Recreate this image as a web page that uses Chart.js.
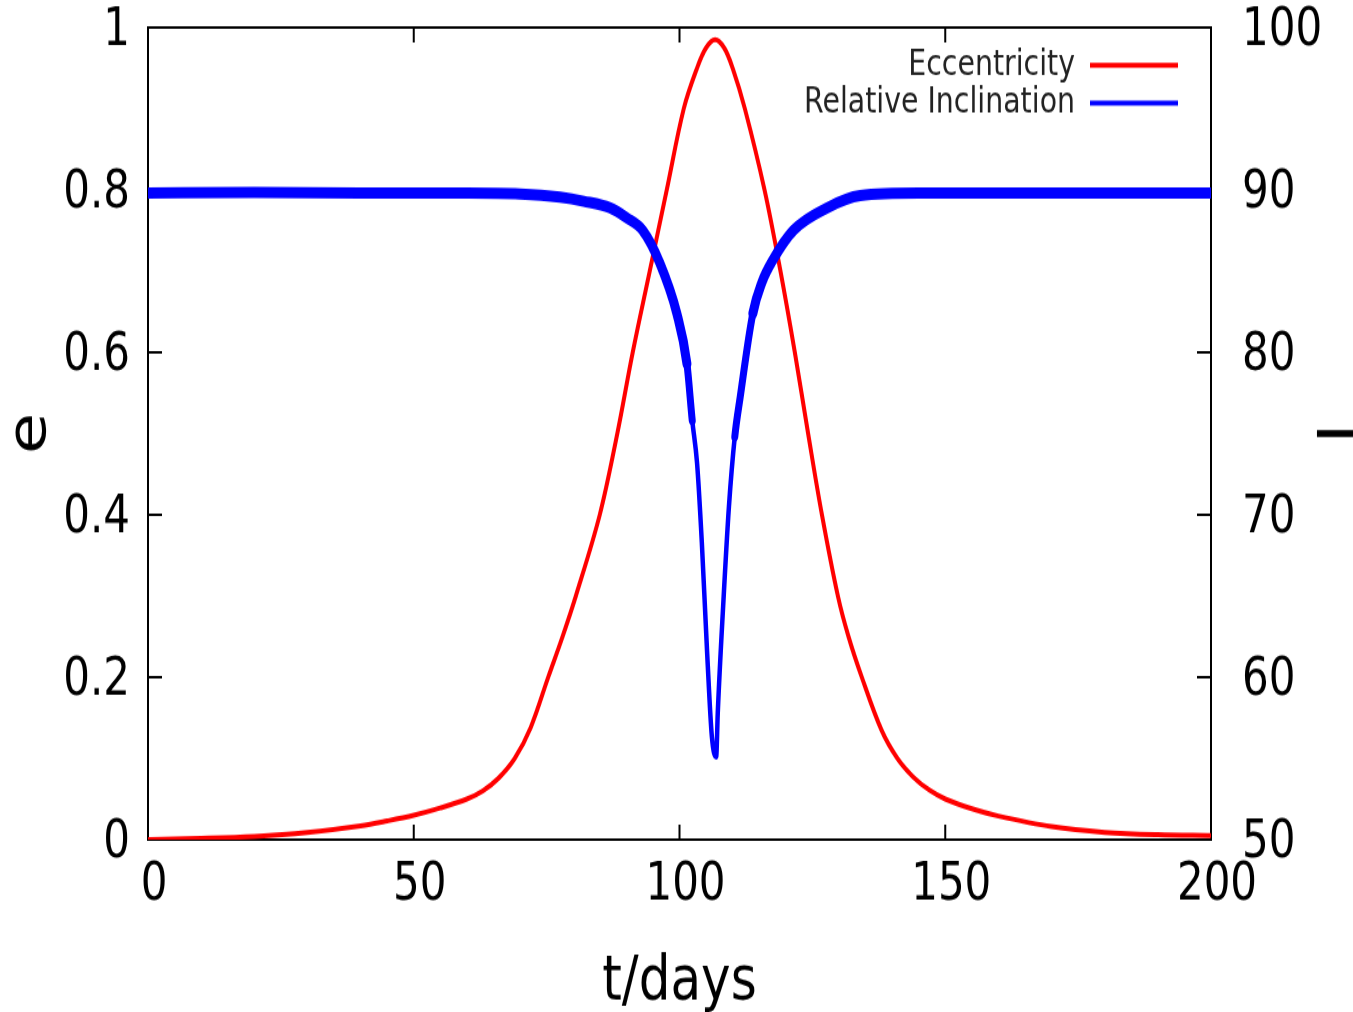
<!DOCTYPE html>
<html>
<head>
<meta charset="utf-8">
<script src="https://cdn.jsdelivr.net/npm/chart.js@4.4.1/dist/chart.umd.min.js"></script>
<style>
  html, body { margin: 0; padding: 0; background: #fff; overflow: hidden; }
  #wrap { width: 1353px; height: 1012px; }
  /* the plot is laid out 810px tall and stretched to the full window height */
  #orbit { display: block; transform: scaleY(1.2494); transform-origin: 0 0; }
</style>
</head>
<body>
<div id="wrap"><canvas id="orbit" width="1353" height="810"></canvas></div>
<script>
// eccentricity e(t)
const eccDays = [0, 10, 20, 30, 40, 45, 50, 55, 60, 63, 66, 69, 72, 75.3, 78, 80.5, 85, 88.3, 91.2, 94.4, 97.6, 100.8, 103.3, 105, 106.7,
  108.4, 110, 112.3, 116, 119, 121.7, 124.2, 126.8, 129.8, 131.8, 134.3, 138, 141, 144, 147, 150, 155, 160, 170, 180, 190, 200];
const eccValues = [0, 0.0015, 0.004, 0.009, 0.017, 0.023, 0.03, 0.039, 0.05, 0.06, 0.076, 0.1, 0.138, 0.2, 0.25, 0.3, 0.4, 0.5, 0.6, 0.7, 0.8, 0.9, 0.95, 0.975, 0.985,
  0.975, 0.95, 0.9, 0.8, 0.7, 0.6, 0.5, 0.4, 0.3, 0.25, 0.2, 0.135, 0.1, 0.077, 0.061, 0.05, 0.038, 0.029, 0.016, 0.009, 0.006, 0.005];

// relative inclination I(t), degrees
const incDays = [0, 20, 40, 60, 70, 77.5, 82, 86.9, 90, 93.1, 96.3, 99.5, 101.4, 102.4, 103.3, 104.2, 105.2,
  106.1, 106.9, 107.2, 108.2, 109.3, 110.4, 111.4, 113.8, 115.5, 117.6, 121.4, 127.8, 134, 145, 160, 180, 200];
const incValues = [89.8, 89.85, 89.8, 89.8, 89.75, 89.55, 89.3, 88.9, 88.3, 87.5, 85.5, 82.4, 79.3, 75.8, 73.2, 68.3, 61.5,
  56.3, 55.1, 57.8, 64.3, 70.5, 74.8, 77.2, 82.4, 84.3, 85.7, 87.5, 88.9, 89.65, 89.8, 89.8, 89.8, 89.8];

const xTicks = [0, 50, 100, 150, 200];
const eTicks = [0, 0.2, 0.4, 0.6, 0.8, 1];
const iTicks = [50, 60, 70, 80, 90, 100];

const FONT = "'DejaVu Sans', sans-serif";

const toPoints = (xs, ys) => xs.map((x, i) => ({ x: x, y: ys[i] }));

// keep the plot box fixed: no extra room for overhanging tick labels
const fixBox = (w, h) => s => {
  if (w != null) s.width = w;
  if (h != null) s.height = h;
  s.paddingTop = 0; s.paddingBottom = 0; s.paddingLeft = 0; s.paddingRight = 0;
};

// the inclination curve is fattened by its fast wobble, which shrinks deep in the dip
const incWidth = c => {
  const lo = Math.min(c.p0.parsed.y, c.p1.parsed.y);
  if (lo >= 79) return 9;
  if (lo >= 74) return 7;
  return 4.5;
};

// box around the plot with inward ticks on all four sides
const framePlugin = {
  id: 'frame',
  beforeDatasetsDraw(chart) {
    const { ctx, chartArea: a, scales } = chart;
    ctx.save();
    ctx.strokeStyle = '#000';
    ctx.lineWidth = 2;
    ctx.strokeRect(a.left, a.top, a.right - a.left, a.bottom - a.top);
    ctx.beginPath();
    xTicks.forEach(v => {
      const x = scales.x.getPixelForValue(v);
      ctx.moveTo(x, a.bottom); ctx.lineTo(x, a.bottom - 12);
      ctx.moveTo(x, a.top); ctx.lineTo(x, a.top + 12);
    });
    eTicks.forEach(v => {
      const y = scales.yE.getPixelForValue(v);
      ctx.moveTo(a.left, y); ctx.lineTo(a.left + 14, y);
    });
    iTicks.forEach(v => {
      const y = scales.yI.getPixelForValue(v);
      ctx.moveTo(a.right, y); ctx.lineTo(a.right - 14, y);
    });
    ctx.stroke();
    ctx.restore();
  },
  afterDraw(chart) {
    // gnuplot-style key: label right-aligned, line sample to its right
    const { ctx, chartArea: a } = chart;
    ctx.save();
    ctx.font = '28.4px ' + FONT;
    ctx.textAlign = 'right';
    ctx.textBaseline = 'middle';
    chart.data.datasets.forEach((ds, i) => {
      const y = a.top + 30.2 + i * 30.4;
      ctx.fillStyle = '#222';
      ctx.fillText(ds.label, a.right - 136, y);
      ctx.strokeStyle = ds.borderColor;
      ctx.lineWidth = 4;
      ctx.beginPath();
      ctx.moveTo(a.right - 121, y);
      ctx.lineTo(a.right - 33, y);
      ctx.stroke();
    });
    ctx.restore();
  }
};

new Chart(document.getElementById('orbit'), {
  type: 'line',
  data: {
    datasets: [
      {
        label: 'Eccentricity',
        data: toPoints(eccDays, eccValues),
        yAxisID: 'yE',
        borderColor: '#ff0000',
        borderWidth: 4,
        pointRadius: 0,
        tension: 0.35,
        order: 1
      },
      {
        label: 'Relative Inclination',
        data: toPoints(incDays, incValues),
        yAxisID: 'yI',
        borderColor: '#0000ff',
        borderWidth: 9,
        borderCapStyle: 'round',
        borderJoinStyle: 'round',
        pointRadius: 0,
        cubicInterpolationMode: 'monotone',
        segment: { borderWidth: incWidth },
        order: 0
      }
    ]
  },
  options: {
    responsive: false,
    animation: false,
    devicePixelRatio: 1,
    layout: { padding: { top: 22, left: 0, right: 0, bottom: 0 } },
    plugins: { legend: { display: false }, tooltip: { enabled: false } },
    scales: {
      x: {
        type: 'linear',
        min: 0, max: 200,
        grid: { display: false, drawTicks: false },
        border: { display: false },
        afterFit: fixBox(null, 138),
        ticks: {
          stepSize: 50, padding: 12, labelOffset: 6, color: '#000',
          font: { family: FONT, size: 42 }, maxRotation: 0
        },
        title: {
          display: true, text: 't/days', color: '#000',
          font: { family: FONT, size: 50, lineHeight: 0.9 },
          padding: { top: 0, bottom: 0 }
        }
      },
      yE: {
        type: 'linear', position: 'left',
        min: 0, max: 1,
        grid: { display: false, drawTicks: false },
        border: { display: false },
        afterFit: fixBox(148, null),
        ticks: {
          stepSize: 0.2, padding: 18, labelOffset: 3.5, color: '#000',
          font: { family: FONT, size: 42 },
          callback: v => String(+v.toFixed(1))
        },
        title: {
          display: true, text: 'e', color: '#000',
          font: { family: FONT, size: 54, lineHeight: 1 },
          padding: { top: 4, bottom: 0 }
        }
      },
      yI: {
        type: 'linear', position: 'right',
        min: 50, max: 100,
        grid: { display: false, drawTicks: false },
        border: { display: false },
        afterFit: fixBox(142, null),
        ticks: {
          stepSize: 10, padding: 31, labelOffset: 3.5, color: '#000',
          font: { family: FONT, size: 42 }
        },
        title: {
          display: true, text: 'I', color: '#000',
          font: { family: FONT, size: 54, lineHeight: 0.8 },
          padding: { top: 0, bottom: 0 }
        }
      }
    }
  },
  plugins: [framePlugin]
});
</script>
</body>
</html>
